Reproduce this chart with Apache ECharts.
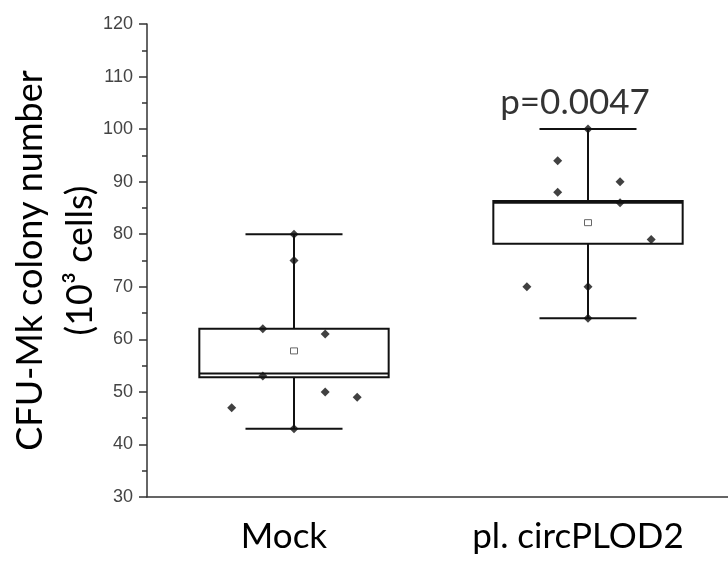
<!DOCTYPE html>
<html lang="en">
<head>
    <meta charset="UTF-8">
    <title>CFU-Mk colony number</title>
    <style>
        html, body { margin: 0; padding: 0; background: #fff; }
        #main { width: 728px; height: 565px; }
    </style>
    <script src="https://cdn.jsdelivr.net/npm/echarts@6/dist/echarts.min.js"></script>
</head>
<body>
<div id="main"></div>
<script type="text/javascript">

    // groups
    var categories = ['Mock', 'pl. circPLOD2'];
    // box stats: [whisker low, Q1, median, Q3, whisker high]
    var mockBox = [43, 52.8, 53.5, 62, 80];
    var plodBox = [64, 78.2, 86, 86.3, 100];
    var means = [57.8, 82.2];
    // individual points and their horizontal jitter (category units)
    var mockPoints = [80, 75, 62, 61, 53, 50, 49, 47, 43];
    var mockJitter = [0, 0, -0.106, 0.106, -0.106, 0.106, 0.215, -0.212, 0];
    var plodPoints = [100, 94, 88, 90, 86, 79, 70, 70, 64];
    var plodJitter = [0, -0.103, -0.103, 0.109, 0.109, 0.215, -0.208, 0, 0];
    var pValue = 'p=0.0047';

    var myChart = echarts.init(document.getElementById('main'));

    var boxData = [[0].concat(mockBox, [means[0]]), [1].concat(plodBox, [means[1]])];

    var pointData = [];
    mockPoints.forEach(function (v, i) { pointData.push([0 + mockJitter[i], v]); });
    plodPoints.forEach(function (v, i) { pointData.push([1 + plodJitter[i], v]); });

    function renderBox(params, api) {
        var idx = api.value(0);
        var band = api.size([1, 0])[0];
        var halfBox = band * 0.322;
        var halfCap = band * 0.165;
        var lo = api.coord([idx, api.value(1)]);
        var q1 = api.coord([idx, api.value(2)]);
        var med = api.coord([idx, api.value(3)]);
        var q3 = api.coord([idx, api.value(4)]);
        var hi = api.coord([idx, api.value(5)]);
        var mn = api.coord([idx, api.value(6)]);
        var x = lo[0];
        var line = { stroke: '#111', lineWidth: 2, fill: null };
        return {
            type: 'group',
            children: [
                { type: 'line', shape: { x1: x, y1: hi[1], x2: x, y2: q3[1] }, style: line },
                { type: 'line', shape: { x1: x, y1: q1[1], x2: x, y2: lo[1] }, style: line },
                { type: 'line', shape: { x1: x - halfCap, y1: hi[1], x2: x + halfCap, y2: hi[1] }, style: line },
                { type: 'line', shape: { x1: x - halfCap, y1: lo[1], x2: x + halfCap, y2: lo[1] }, style: line },
                { type: 'rect', shape: { x: x - halfBox, y: q3[1], width: halfBox * 2, height: q1[1] - q3[1] },
                  style: { stroke: '#111', lineWidth: 2, fill: '#fff' } },
                { type: 'line', shape: { x1: x - halfBox, y1: med[1], x2: x + halfBox, y2: med[1] }, style: line },
                { type: 'rect', shape: { x: mn[0] - 3.5, y: mn[1] - 3, width: 7, height: 6 },
                  style: { stroke: '#666', lineWidth: 1, fill: '#fff' } }
            ]
        };
    }

    var option = {
        animation: false,
        grid: { left: 147, right: -7, top: 24, bottom: 68, outerBoundsMode: 'none' },
        xAxis: [{
            type: 'category',
            data: categories,
            axisLine: { lineStyle: { color: '#333', width: 1.5 } },
            axisTick: { alignWithLabel: true, length: 8, lineStyle: { color: '#333', width: 1.5 } },
            axisLabel: { color: '#000', fontFamily: 'Lato', fontSize: 35, margin: 22, padding: [0, 20, 0, 0] }
        }, {
            type: 'value',
            min: -0.5,
            max: 1.5,
            show: false
        }],
        yAxis: {
            type: 'value',
            min: 30,
            max: 120,
            interval: 10,
            name: 'CFU-Mk colony number\n(10³ cells)',
            nameLocation: 'middle',
            nameGap: 42,
            nameMoveOverlap: false,
            nameTextStyle: { color: '#000', fontFamily: 'Lato', fontSize: 36, lineHeight: 50 },
            axisLine: { show: true, onZero: false, lineStyle: { color: '#333', width: 1.5 } },
            axisTick: { show: true, length: 8, lineStyle: { color: '#333', width: 1.5 } },
            minorTick: { show: true, splitNumber: 2, length: 5, lineStyle: { color: '#333', width: 1.5 } },
            splitLine: { show: false },
            axisLabel: { color: '#444', fontFamily: 'Liberation Sans', fontSize: 18, margin: 14 }
        },
        series: [{
            type: 'custom',
            xAxisIndex: 0,
            renderItem: renderBox,
            data: boxData,
            z: 2
        }, {
            type: 'scatter',
            xAxisIndex: 1,
            symbol: 'diamond',
            symbolSize: 9,
            itemStyle: { color: '#111' },
            data: pointData,
            z: 3
        }, {
            type: 'scatter',
            xAxisIndex: 1,
            symbolSize: 0,
            data: [[1, plodBox[4]]],
            label: {
                show: true,
                position: 'top',
                distance: 9,
                offset: [-13, 0],
                formatter: pValue,
                color: '#000',
                fontFamily: 'Lato',
                fontSize: 35
            },
            z: 4
        }]
    };

    myChart.setOption(option);

</script>
</body>
</html>
